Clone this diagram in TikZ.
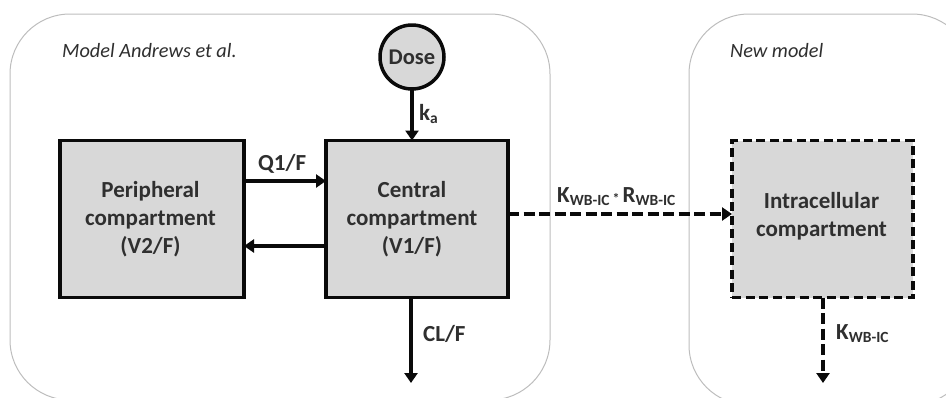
\documentclass[tikz,border=0pt]{standalone}
\usepackage{fontspec}
\setmainfont{Carlito}
\usetikzlibrary{arrows.meta}
\definecolor{boxgray}{HTML}{D8D8D8}
\definecolor{panelgray}{HTML}{BDBDBD}
\definecolor{ink}{HTML}{0A0A0A}
\tikzset{
  panel/.style={draw=panelgray,line width=1pt,rounded corners=60pt,fill=white},
  compbox/.style={draw=ink,fill=boxgray,line width=3.5pt,inner sep=0pt,outer sep=0pt,align=center,font=\fontsize{23}{28}\selectfont\bfseries,text=ink!85!white},
  solidbox/.style={compbox},
  dashbox/.style={compbox,dash pattern=on 9pt off 4.5pt},
  flow/.style={draw=ink,line width=3.5pt,-{Triangle[length=10pt,width=13pt]}},
  dashflow/.style={flow,dash pattern=on 11pt off 4.5pt},
  flowlabel/.style={inner sep=0pt,font=\fontsize{23}{25}\selectfont\bfseries,text=ink!85!white,anchor=base west},
  title/.style={inner sep=0pt,font=\fontsize{20.3}{24}\selectfont\itshape,text=ink!85!white,anchor=base west}
}
\newcommand{\lowtext}[1]{\raisebox{-3.5pt}{\fontsize{15.5}{18}\selectfont #1}}
\newcommand{\nudge}[1]{\hspace*{-#1}}
\begin{document}
\begin{tikzpicture}[x=1pt,y=-1pt]
\useasboundingbox (0,0) rectangle (946,397);
\begin{scope}
\clip (0,0) rectangle (946,397);
\draw[panel] (10,14) rectangle (550,400);
\draw[panel] (689,14) rectangle (972,405);
\end{scope}
\node[title] (t1) at (62,57) {Model Andrews et al.};
\node[title] (t2) at (730,57) {New model};
\node[solidbox,minimum width=184pt,minimum height=157pt] (peri) at (152,219) {\nudge{3pt}Peripheral\\\nudge{3pt}compartment\\\nudge{3pt}(V2/F)};
\node[solidbox,minimum width=182pt,minimum height=157pt] (cent) at (417,219) {\nudge{10pt}Central\\\nudge{10pt}compartment\\\nudge{10pt}(V1/F)};
\node[dashbox,minimum width=181pt,minimum height=157pt] (intra) at (822.5,219) {\nudge{2pt}Intracellular\\\nudge{2pt}compartment\\[-18pt]\mbox{}};
\node[circle,draw=ink,fill=boxgray,line width=3.5pt,minimum size=64pt,inner sep=0pt,outer sep=0pt,font=\fontsize{22.5}{25}\selectfont\bfseries,text=ink!85!white] (dose) at (412,57) {Dose};
\coordinate (clend) at (411,383);
\coordinate (kend) at (823,383);
\draw[flow] (dose.south) -- (cent.north -| dose.south);
\draw[flow] (peri.east |- 0,181) -- (cent.west |- 0,181);
\draw[flow] (cent.west |- 0,246) -- (peri.east |- 0,246);
\draw[flow] (cent.south -| clend) -- (clend);
\draw[dashflow] (cent.east |- 0,214) -- (intra.west |- 0,214);
\draw[dashflow] (intra.south -| kend) -- (kend);
\node[flowlabel] (lka) at (419,120) {k\lowtext{a}};
\node[flowlabel] (lq) at (258,170) {Q1/F};
\node[flowlabel] (lcl) at (423,341) {CL/F};
\node[flowlabel] (lkr) at (557,202) {K\lowtext{WB-IC}\hspace{3pt}\raisebox{-1pt}{\fontsize{14}{18}\selectfont *}\hspace{3pt}R\lowtext{WB-IC}};
\node[flowlabel] (lk) at (836,339) {K\lowtext{WB-IC}};
\end{tikzpicture}
\end{document}
